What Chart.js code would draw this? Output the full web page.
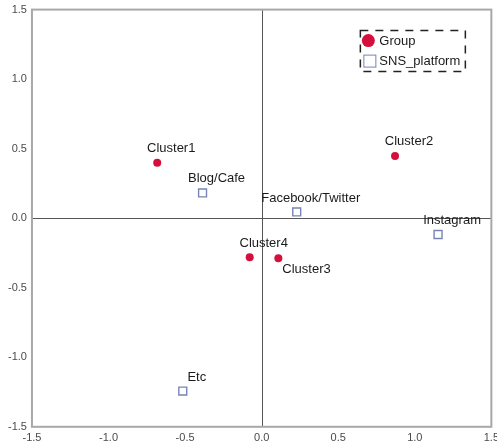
<!DOCTYPE html>
<html>
<head>
<meta charset="utf-8">
<script src="https://cdn.jsdelivr.net/npm/chart.js@4/dist/chart.umd.min.js"></script>
<style>
    html, body { margin: 0; padding: 0; background: #fff; overflow: hidden; }
    #wrap { position: relative; width: 504px; height: 453px; margin-top: -2px; }
</style>
</head>
<body>
<div id="wrap"><canvas id="mapChart"></canvas></div>
<script>
// Category points (row scores)
const groupNames = ['Cluster1', 'Cluster2', 'Cluster3', 'Cluster4'];
const groupX = [-0.682, 0.871, 0.109, -0.078];
const groupY = [0.398, 0.448, -0.288, -0.281];

// Column points
const platformNames = ['Blog/Cafe', 'Facebook/Twitter', 'Instagram', 'Etc'];
const platformX = [-0.386, 0.229, 1.152, -0.515];
const platformY = [0.182, 0.045, -0.117, -1.243];

const axisTicks = [-1.5, -1.0, -0.5, 0.0, 0.5, 1.0, 1.5];
const legendLabels = ['Group', 'SNS_platform'];

const FONT = '"Liberation Sans", Arial, sans-serif';
const RED = '#d50f3b';
const SLATE = '#7784b4';

function toPoints(names, xs, ys) {
    return names.map((n, i) => ({ x: xs[i], y: ys[i], label: n }));
}

// Frame around the plot plus the zero reference lines
const framePlugin = {
    id: 'frame',
    beforeDatasetsDraw(chart) {
        const { ctx, chartArea: a, scales } = chart;
        const x0 = Math.round(scales.x.getPixelForValue(0)) + 0.5;
        const y0 = Math.round(scales.y.getPixelForValue(0)) + 0.5;
        ctx.save();
        ctx.strokeStyle = '#555';
        ctx.lineWidth = 1;
        ctx.beginPath();
        ctx.moveTo(x0, a.top);
        ctx.lineTo(x0, a.bottom);
        ctx.moveTo(a.left, y0);
        ctx.lineTo(a.right, y0);
        ctx.stroke();
        ctx.strokeStyle = '#a8a8a8';
        ctx.lineWidth = 2;
        ctx.strokeRect(a.left, a.top, a.right - a.left, a.bottom - a.top);
        ctx.restore();
    }
};

// Text next to every point; Cluster3 sits below its marker
const pointLabelPlugin = {
    id: 'pointLabels',
    afterDatasetsDraw(chart) {
        const ctx = chart.ctx;
        ctx.save();
        ctx.font = '13px ' + FONT;
        ctx.fillStyle = '#1a1a1a';
        ctx.textBaseline = 'middle';
        chart.data.datasets.forEach((ds, di) => {
            chart.getDatasetMeta(di).data.forEach((el, i) => {
                const name = ds.data[i].label;
                if (name === 'Cluster3') {
                    ctx.textAlign = 'left';
                    ctx.fillText(name, el.x + 4, el.y + 11);
                } else {
                    ctx.textAlign = 'center';
                    ctx.fillText(name, el.x + 14, el.y - 14);
                }
            });
        });
        ctx.restore();
    }
};

// Boxed legend in the upper right corner of the plot
const boxLegendPlugin = {
    id: 'boxLegend',
    afterDraw(chart) {
        const { ctx, chartArea: a } = chart;
        const left = a.right - 131;
        const top = a.top + 21;
        ctx.save();
        ctx.setLineDash([8, 7]);
        ctx.strokeStyle = '#222';
        ctx.lineWidth = 1.5;
        ctx.strokeRect(left, top, 105, 41);
        ctx.setLineDash([]);

        ctx.fillStyle = RED;
        ctx.beginPath();
        ctx.arc(left + 8, top + 10, 6.5, 0, Math.PI * 2);
        ctx.fill();

        ctx.fillStyle = '#fff';
        ctx.fillRect(left + 3.5, top + 24.5, 12, 12);
        ctx.strokeStyle = SLATE;
        ctx.lineWidth = 1;
        ctx.strokeRect(left + 3.5, top + 24.5, 12, 12);

        ctx.font = '13px ' + FONT;
        ctx.fillStyle = '#1a1a1a';
        ctx.textAlign = 'left';
        ctx.textBaseline = 'middle';
        ctx.fillText(legendLabels[0], left + 19, top + 11);
        ctx.fillText(legendLabels[1], left + 19, top + 31);
        ctx.restore();
    }
};

function axisOptions() {
    return {
        type: 'linear',
        min: axisTicks[0],
        max: axisTicks[axisTicks.length - 1],
        afterBuildTicks(scale) {
            scale.ticks = axisTicks.map(v => ({ value: v }));
        },
        grid: { display: false, drawTicks: false },
        border: { display: false },
        ticks: {
            padding: 5,
            color: '#4a4a4a',
            font: { family: FONT, size: 11 },
            callback: v => v.toFixed(1)
        }
    };
}

function initializeChart() {
    const ctx = document.getElementById('mapChart').getContext('2d');
    new Chart(ctx, {
        type: 'scatter',
        data: {
            datasets: [
                {
                    label: legendLabels[0],
                    data: toPoints(groupNames, groupX, groupY),
                    pointStyle: 'circle',
                    pointRadius: 4,
                    backgroundColor: RED,
                    borderColor: RED,
                    borderWidth: 0
                },
                {
                    label: legendLabels[1],
                    data: toPoints(platformNames, platformX, platformY),
                    pointStyle: 'rect',
                    pointRadius: 5.6,
                    backgroundColor: '#fff',
                    borderColor: SLATE,
                    borderWidth: 1.4
                }
            ]
        },
        options: {
            responsive: true,
            maintainAspectRatio: false,
            animation: false,
            layout: { padding: { left: 3, right: 9, top: 8, bottom: 1 } },
            plugins: {
                legend: { display: false },
                tooltip: { enabled: false }
            },
            scales: { x: axisOptions(), y: axisOptions() }
        },
        plugins: [framePlugin, pointLabelPlugin, boxLegendPlugin]
    });
}

window.onload = function() {
    initializeChart();
}
</script>
</body>
</html>
